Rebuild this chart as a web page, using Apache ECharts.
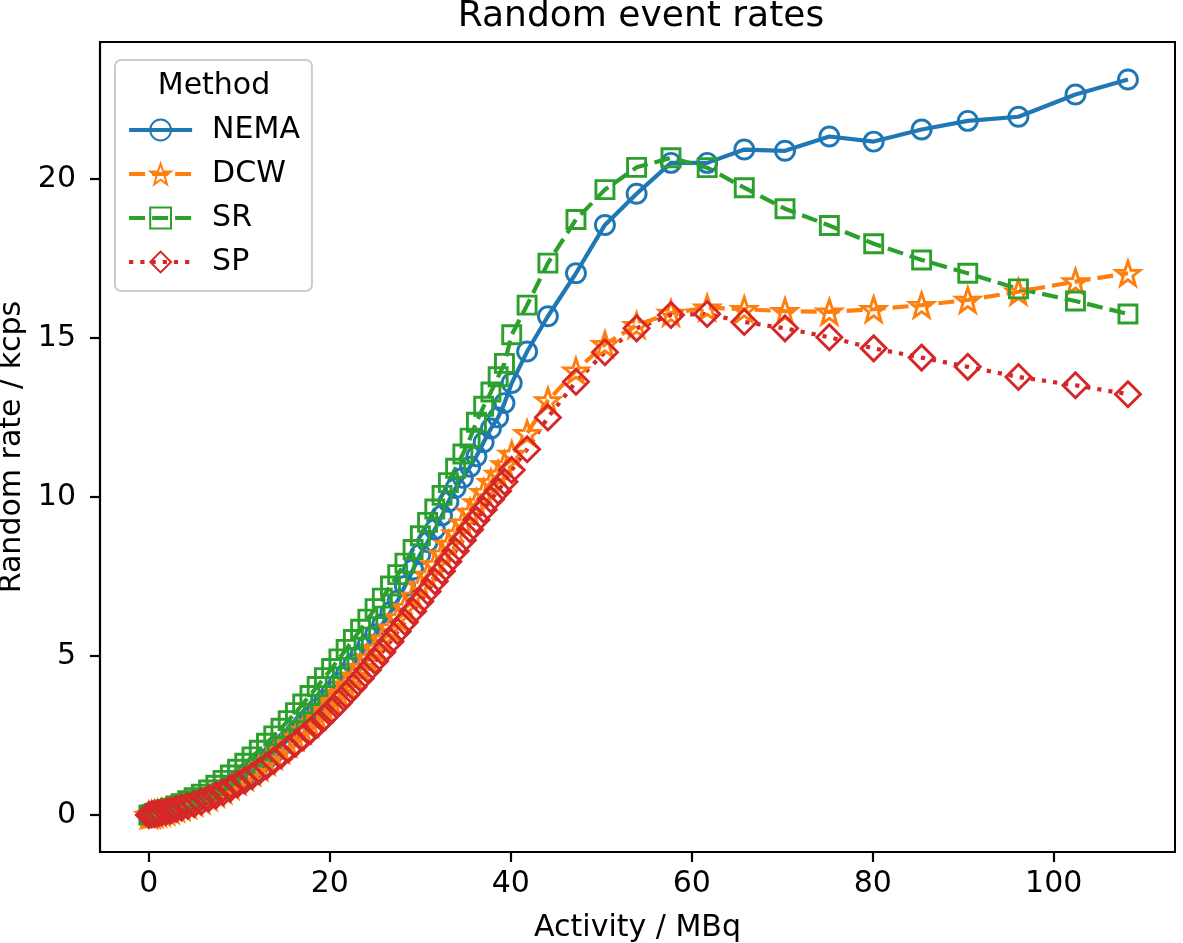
<!DOCTYPE html>
<html>
<head>
<meta charset="utf-8">
<script src="https://cdn.jsdelivr.net/npm/echarts@6/dist/echarts.min.js"></script>
<style>
  html, body { margin: 0; padding: 0; background: #fff; }
  #chart { width: 1183px; height: 943px; }
</style>
</head>
<body>
<div id="chart"></div>
<script>
var activity = [0.0, 0.3, 0.6, 1.0, 1.4, 1.9, 2.4, 3.0, 3.6, 4.3,
    5.0, 5.8, 6.6, 7.4, 8.2, 9.0, 9.8, 10.6, 11.4, 12.2,
    13.0, 13.8, 14.6, 15.4, 16.2, 17.0, 17.8, 18.6, 19.4, 20.2,
    21.0, 21.8, 22.6, 23.4, 24.2, 25.0, 25.8, 26.7, 27.5, 28.3,
    29.2, 30.0, 30.8, 31.6, 32.4, 33.1, 33.9, 34.7, 35.5, 36.2,
    37.0, 37.8, 38.6, 39.3, 40.1, 41.8, 44.1, 47.2, 50.4, 53.9,
    57.7, 61.7, 65.8, 70.3, 75.2, 80.1, 85.4, 90.5, 96.1, 102.4, 108.2];

var nema = [0.00, 0.08, 0.12, 0.15, 0.17, 0.19, 0.22, 0.26, 0.30, 0.36,
    0.42, 0.49, 0.58, 0.68, 0.80, 0.94, 1.08, 1.24, 1.40, 1.58,
    1.76, 1.96, 2.17, 2.38, 2.60, 2.84, 3.08, 3.34, 3.60, 3.88,
    4.16, 4.45, 4.75, 5.05, 5.36, 5.68, 6.00, 6.38, 6.74, 7.20,
    7.72, 8.20, 8.58, 8.98, 9.42, 9.85, 10.28, 10.60, 10.95, 11.28,
    11.72, 12.15, 12.50, 12.95, 13.58, 14.57, 15.68, 17.03, 18.55, 19.53,
    20.50, 20.50, 20.92, 20.88, 21.33, 21.17, 21.55, 21.82, 21.95, 22.65, 23.12];

var dcw = [0.00, 0.02, 0.04, 0.06, 0.09, 0.12, 0.16, 0.21, 0.26, 0.32,
    0.39, 0.47, 0.57, 0.68, 0.79, 0.92, 1.06, 1.20, 1.35, 1.51,
    1.68, 1.86, 2.05, 2.25, 2.45, 2.66, 2.88, 3.11, 3.35, 3.59,
    3.84, 4.10, 4.37, 4.65, 4.94, 5.24, 5.54, 5.89, 6.21, 6.53,
    6.89, 7.22, 7.55, 7.88, 8.21, 8.51, 8.85, 9.19, 9.53, 9.83,
    10.15, 10.46, 10.72, 11.02, 11.35, 12.00, 13.03, 13.97, 14.80, 15.40,
    15.78, 15.95, 15.90, 15.84, 15.82, 15.90, 16.03, 16.19, 16.45, 16.77, 17.03];

var sr = [0.00, 0.02, 0.05, 0.08, 0.12, 0.16, 0.22, 0.29, 0.36, 0.45,
    0.55, 0.66, 0.79, 0.94, 1.09, 1.26, 1.44, 1.63, 1.83, 2.04,
    2.26, 2.49, 2.73, 2.97, 3.22, 3.49, 3.76, 4.04, 4.32, 4.61,
    4.91, 5.21, 5.52, 5.84, 6.16, 6.49, 6.82, 7.20, 7.56, 7.92,
    8.35, 8.78, 9.20, 9.62, 10.05, 10.45, 10.90, 11.35, 11.85, 12.35,
    12.85, 13.30, 13.78, 14.20, 15.10, 16.03, 17.35, 18.72, 19.66, 20.36,
    20.66, 20.35, 19.72, 19.06, 18.53, 17.96, 17.45, 17.03, 16.54, 16.16, 15.75];

var sp = [0.00, 0.02, 0.03, 0.05, 0.08, 0.11, 0.14, 0.19, 0.24, 0.29,
    0.35, 0.43, 0.52, 0.62, 0.72, 0.84, 0.97, 1.09, 1.23, 1.38,
    1.54, 1.71, 1.88, 2.06, 2.25, 2.44, 2.64, 2.85, 3.07, 3.30,
    3.53, 3.78, 4.03, 4.29, 4.56, 4.84, 5.13, 5.46, 5.77, 6.07,
    6.41, 6.72, 7.03, 7.35, 7.67, 7.97, 8.30, 8.64, 8.98, 9.28,
    9.60, 9.92, 10.19, 10.48, 10.85, 11.50, 12.50, 13.62, 14.55, 15.30,
    15.72, 15.75, 15.50, 15.30, 15.02, 14.67, 14.38, 14.09, 13.77, 13.51, 13.23];

var methods = ['NEMA', 'DCW', 'SR', 'SP'];
var colors = ['#1f77b4', '#ff7f0e', '#2ca02c', '#d62728'];
var xTicks = [0, 20, 40, 60, 80, 100];
var yTicks = [0, 5, 10, 15, 20];

var font = 'DejaVu Sans';
var star = 'path://M0,-10L2.35,-3.24L9.51,-3.09L3.8,1.24L5.88,8.09L0,4L-5.88,8.09L-3.8,1.24L-9.51,-3.09L-2.35,-3.24Z';

function pairs(ys) {
    return activity.map(function (x, i) { return [x, ys[i]]; });
}

function makeSeries(name, ys, color, symbol, size, dash) {
    return {
        name: name,
        type: 'line',
        data: pairs(ys),
        symbol: symbol,
        symbolSize: size,
        showAllSymbol: true,
        color: color,
        lineStyle: { color: color, width: 4.2, type: dash, cap: 'butt' },
        itemStyle: { color: 'rgba(255,255,255,0)', borderColor: color, borderWidth: 2.9 }
    };
}

var chart = echarts.init(document.getElementById('chart'));

var option = {
    animation: false,
    backgroundColor: '#fff',
    graphic: [
        { type: 'text', x: 641, y: 17, style: { text: 'Random event rates', font: '36px "DejaVu Sans"', fill: '#000', textAlign: 'center', textVerticalAlign: 'middle' } },
        { type: 'text', x: 214, y: 86, z: 100, style: { text: 'Method', font: '30px "DejaVu Sans"', fill: '#000', textAlign: 'center', textVerticalAlign: 'middle' } }
    ],
    legend: {
        data: methods,
        orient: 'vertical',
        left: 115,
        top: 60,
        padding: [55, 12, 14, 12],
        itemWidth: 63,
        itemHeight: 26,
        itemGap: 14,
        borderColor: '#cccccc',
        borderWidth: 2,
        borderRadius: 6,
        backgroundColor: 'rgba(255,255,255,0.8)',
        lineStyle: { width: 4.2 },
        textStyle: { fontFamily: font, fontSize: 30, color: '#000', lineHeight: 30, padding: [0, 0, 0, 15] }
    },
    grid: {
        left: 100,
        top: 42,
        width: 1075,
        height: 810,
        show: true,
        borderColor: '#000',
        borderWidth: 2,
        containLabel: false,
        outerBoundsMode: 'none'
    },
    xAxis: {
        type: 'value',
        min: -5.4,
        max: 113.4,
        splitNumber: 6,
        name: 'Activity / MBq',
        nameLocation: 'middle',
        nameGap: 61,
        nameTextStyle: { fontFamily: font, fontSize: 30, color: '#000' },
        axisLine: { show: true, onZero: false, lineStyle: { color: '#000', width: 2.2 } },
        axisTick: { show: true, inside: false, length: 10, lineStyle: { color: '#000', width: 2.2 } },
        axisLabel: {
            fontFamily: font, fontSize: 30, color: '#000', margin: 17,
            showMinLabel: false, showMaxLabel: false,
            formatter: function (v) { return xTicks.indexOf(v) >= 0 ? String(v) : ''; }
        },
        splitLine: { show: false }
    },
    yAxis: {
        type: 'value',
        min: -1.16,
        max: 24.3,
        splitNumber: 5,
        name: 'Random rate / kcps',
        nameLocation: 'middle',
        nameGap: 70,
        nameTextStyle: { fontFamily: font, fontSize: 30, color: '#000' },
        axisLine: { show: true, onZero: false, lineStyle: { color: '#000', width: 2.2 } },
        axisTick: { show: true, inside: false, length: 10, lineStyle: { color: '#000', width: 2.2 } },
        axisLabel: {
            fontFamily: font, fontSize: 30, color: '#000', margin: 24,
            showMinLabel: false, showMaxLabel: false,
            formatter: function (v) { return yTicks.indexOf(v) >= 0 ? String(v) : ''; }
        },
        splitLine: { show: false }
    },
    series: [
        makeSeries('NEMA', nema, colors[0], 'circle', 19, 'solid'),
        makeSeries('DCW', dcw, colors[1], star, 24, [16, 7]),
        makeSeries('SR', sr, colors[2], 'rect', 18, [16, 7]),
        makeSeries('SP', sp, colors[3], 'diamond', 25, [4.2, 7])
    ]
};

chart.setOption(option);
</script>
</body>
</html>
